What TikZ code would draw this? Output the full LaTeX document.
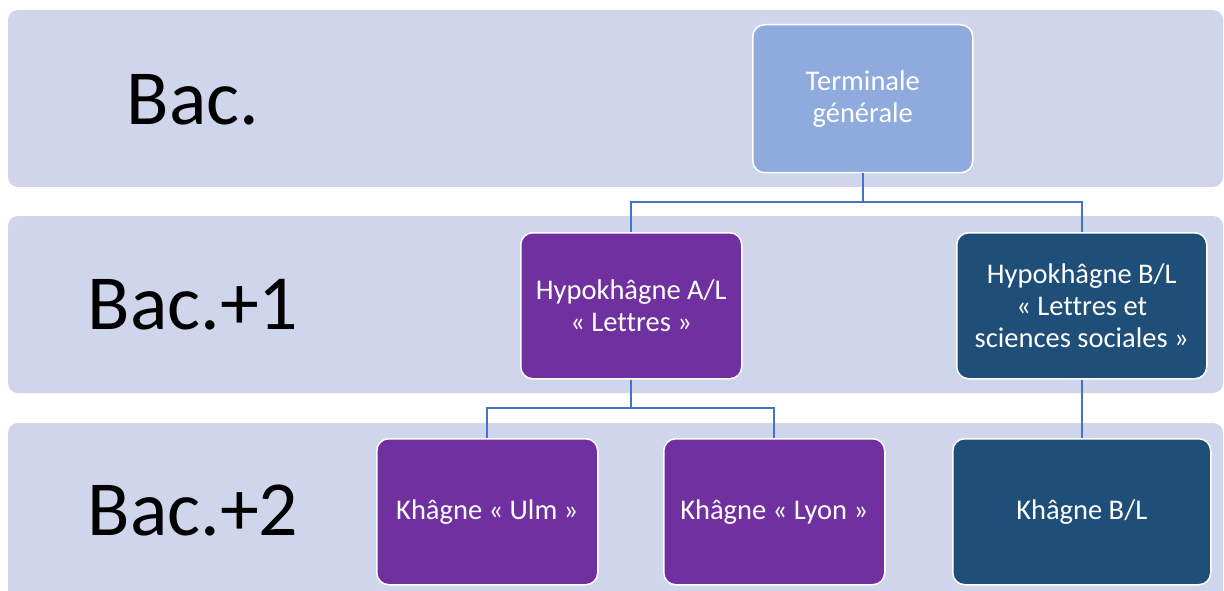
\documentclass[tikz,border=0pt]{standalone}
\usepackage{fontspec}
\setmainfont{Carlito}[Ligatures={NoCommon}]
\begin{document}
\begin{tikzpicture}[x=1pt,y=-1pt,
  band/.style={fill=bandc,draw=none,rounded corners=10pt},
  lvl/.style={text=black,font=\fontsize{78}{82}\selectfont,anchor=center},
  box/.style={draw=white,line width=1.5pt,rounded corners=12pt,text=white,
    align=center,inner sep=0pt,font=\fontsize{28.5}{32}\selectfont,anchor=north west},
  conn/.style={draw=connc,line width=2pt}]
\definecolor{bandc}{HTML}{CFD5EA}
\definecolor{termc}{HTML}{8FAADC}
\definecolor{purp}{HTML}{7030A0}
\definecolor{navy}{HTML}{1F4E79}
\definecolor{connc}{HTML}{4472C4}
\useasboundingbox (0,0) rectangle (1224,591);
\clip (0,0) rectangle (1224,591);
\fill[white] (0,0) rectangle (1224,591);
% bands
\path[band] (8,10) rectangle (1223,187);
\path[band] (8,216) rectangle (1223,393);
\path[band] (8,423) rectangle (1223,620);
% level labels
\node[lvl] (l0) at (193,100) {Bac.};
\node[lvl] (l1) at (193,305) {Bac.+1};
\node[lvl] (l2) at (193,510) {Bac.+2};
% boxes
\node[box,fill=termc,minimum width=220pt,minimum height=148pt] (term) at (752,24) {Terminale\\générale};
\node[box,fill=purp,minimum width=221pt,minimum height=146pt] (hal) at (520,232) {Hypokhâgne A/L\\« Lettres »};
\node[box,fill=navy,minimum width=250pt,minimum height=146pt] (hbl) at (956,232) {Hypokhâgne B/L\\« Lettres et\\sciences sociales »};
\node[box,fill=purp,minimum width=221pt,minimum height=146pt] (ulm) at (376,438) {Khâgne « Ulm »};
\node[box,fill=purp,minimum width=221pt,minimum height=146pt] (lyon) at (663,438) {Khâgne « Lyon »};
\node[box,fill=navy,minimum width=258pt,minimum height=146pt] (kbl) at (952,438) {Khâgne B/L};
% connectors
\coordinate (j1) at (0,202);
\coordinate (j2) at (0,408);
\draw[conn] (term.south) -- (term.south |- j1) -| (hal.north);
\draw[conn] (term.south |- j1) -| (hbl.north);
\draw[conn] (hal.south) -- (hal.south |- j2) -| (ulm.north);
\draw[conn] (hal.south |- j2) -| (lyon.north);
\draw[conn] (hbl.south) -- (hbl.south |- kbl.north);
\end{tikzpicture}
\end{document}
